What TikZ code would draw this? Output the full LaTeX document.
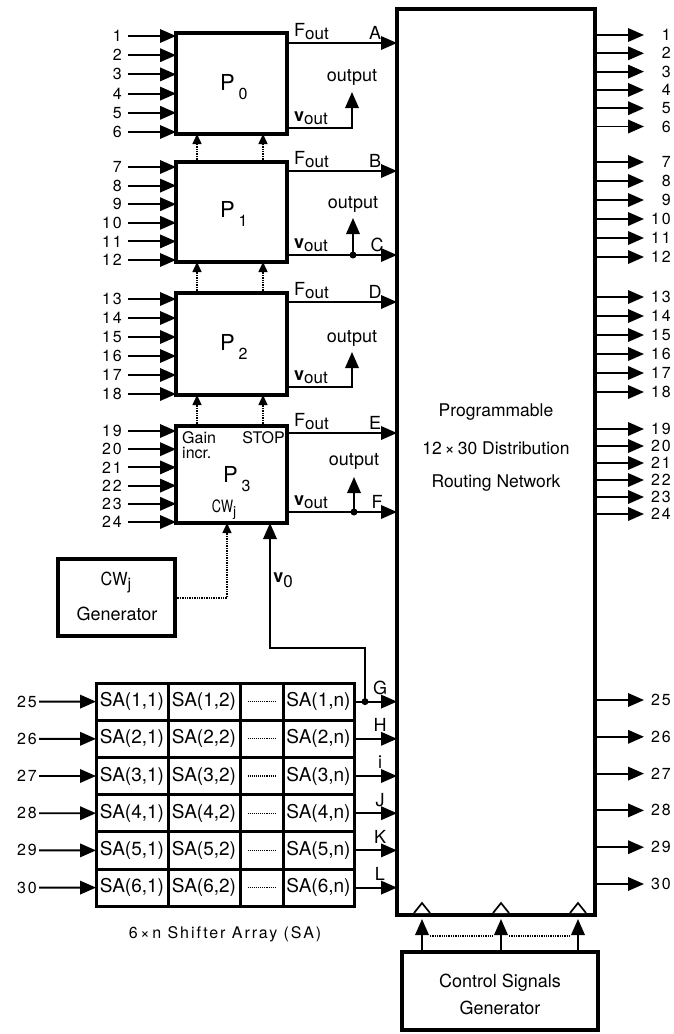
\documentclass[tikz,border=0pt]{standalone}
\usepackage{fontspec}
\usepackage{graphicx}
\setmainfont{TeX Gyre Heros}
\newfontfamily\numfont[LetterSpace=12]{TeX Gyre Heros}
\usetikzlibrary{arrows.meta,calc}
\tikzset{
  blk/.style={draw, line width=3.6pt, inner sep=0pt, outer sep=0pt, anchor=north west},
  cell/.style={draw, line width=3pt, inner sep=0pt, outer sep=0pt, anchor=north west, minimum height=37.2pt, font=\fontsize{19}{19}\selectfont},
  arr/.style={line width=1.9pt, -{Triangle[length=16pt,width=13.5pt]}},
  sarr/.style={line width=1.4pt, densely dotted, -{Triangle[length=10pt,width=9pt]}},
  num/.style={font=\numfont\fontsize{16}{16}\selectfont, inner sep=0pt},
  lab/.style={font=\fontsize{18}{18}\selectfont, inner sep=0pt},
  small/.style={font=\fontsize{16}{16}\selectfont, inner sep=0pt},
  plab/.style={font=\fontsize{22}{22}\selectfont, inner sep=0pt, anchor=base west},
  bigdot/.style={circle, fill, inner sep=0pt, minimum size=7pt},
}
\newcommand{\Fout}{F\raisebox{-3pt}{\fontsize{17}{17}\selectfont out}}
\newcommand{\Vout}{\textbf{v}\raisebox{-3pt}{\fontsize{17}{17}\selectfont out}}
\begin{document}
\begin{tikzpicture}[x=1pt,y=-1pt]
\useasboundingbox (0,0) rectangle (673,1034);

% main blocks
\node[blk, minimum width=111pt, minimum height=101pt] (P0) at (176,33) {};
\node[blk, minimum width=111pt, minimum height=100pt] (P1) at (176,162) {};
\node[blk, minimum width=111pt, minimum height=102pt] (P2) at (176,293) {};
\node[blk, minimum width=111pt, minimum height=97pt] (P3) at (176,426) {};
\node[blk, minimum width=198pt, minimum height=906pt, line width=4pt] (R) at (397,9) {};
\node[blk, minimum width=117pt, minimum height=77pt] (CWG) at (58,559) {};
\node[blk, minimum width=196pt, minimum height=78pt] (CSG) at (402,952) {};

% block labels
\node[plab] (P0t) at (220,90) {P\,\raisebox{-9pt}{\fontsize{16}{16}\selectfont 0}};
\node[plab] (P1t) at (220,217) {P\,\raisebox{-9pt}{\fontsize{16}{16}\selectfont 1}};
\node[plab] (P2t) at (220,350) {P\,\raisebox{-9pt}{\fontsize{16}{16}\selectfont 2}};
\node[plab] (P3t) at (223,482) {P\,\raisebox{-9pt}{\fontsize{16}{16}\selectfont 3}};
\node[small, anchor=north west] (gain) at (182,431) {Gain};
\node[small, anchor=north west] (incr) at (182,447) {incr.};
\node[small, anchor=north east] (stop) at (285,431) {STOP};
\node[small, font=\fontsize{17}{17}\selectfont] (cwin) at (224,510) {\scalebox{0.75}[1]{CW}\raisebox{-4pt}{\fontsize{14}{14}\selectfont j}};

\node[lab] (cwt) at (116,583) {\scalebox{0.9}[1]{CW}\raisebox{-4pt}{\fontsize{16}{16}\selectfont j}};
\node[lab] (cwt2) at (117,614) {Generator};

\node[lab, font=\fontsize{17.5}{17.5}\selectfont] (rt1) at (496,412) {Programmable};
\node[lab, font=\fontsize{17.5}{17.5}\selectfont] (rt2) at (496,448) {12\,×\,30 Distribution};
\node[lab, font=\fontsize{17.5}{17.5}\selectfont] (rt3) at (496,483) {Routing Network};

\node[lab] (cs1) at (500,983) {Control Signals};
\node[lab] (cs2) at (500,1008) {Generator};

% left inputs of P blocks
\foreach \b/\s/\dd/\f in {P0/36/19.2/1, P1/167/18.6/7, P2/299/19/13, P3/431/18.2/19} {
  \foreach \i in {0,...,5} {
    \pgfmathsetmacro\yy{\s+\dd*\i}
    \pgfmathtruncatemacro\nn{\f+\i}
    \node[num, anchor=east] (iL\nn) at (122,\yy) {\nn};
    \coordinate (iS\nn) at (128,\yy);
    \draw[arr] (iS\nn) -- (\b.west |- iS\nn);
  }
}

% right outputs
\foreach \s/\dd/\f in {35/18.3/1, 162/19/7, 297/19/13, 429/17/19, 700/36.8/25} {
  \foreach \i in {0,...,5} {
    \pgfmathsetmacro\yy{\s+\dd*\i}
    \pgfmathtruncatemacro\nn{\f+\i}
    \node[num, anchor=east] (oR\nn) at (671,\yy) {\nn};
    \coordinate (oT\nn) at (644,\yy);
    \draw[arr] (R.east |- oT\nn) -- (oT\nn);
  }
}

% control arrows between P blocks
\foreach \up/\dn in {P0/P1, P1/P2, P2/P3} {
  \foreach \xx in {197,263} {
    \draw[sarr] (\dn.north -| \xx,0) -- (\up.south -| \xx,0);
  }
}

% F_out arrows
\foreach \b/\yy/\L in {P0/43/A, P1/171/B, P2/302/D, P3/433/E} {
  \draw[arr] (\b.east |- 0,\yy) -- (R.west |- 0,\yy);
  \node[lab, anchor=south west] (F\b) at (294,\yy-3) {\Fout};
  \node[lab] (L\L) at (375,\yy-10) {\L};
}

% v_out labels
\foreach \b/\yy in {P0/128, P1/255, P2/387, P3/512} {
  \node[lab, anchor=south west] (V\b) at (294,\yy-3) {\Vout};
}

% outputs
\node[lab, anchor=south] (o0) at (352,86) {output};
\node[lab, anchor=south] (o1) at (353,213) {output};
\node[lab, anchor=south] (o2) at (352,347) {output};
\node[lab, anchor=south] (o3) at (354,470) {output};

\draw[arr] (P0.east |- 0,128) -| ([yshift=-6pt]o0.south);
\node[bigdot] (d1) at (353,255) {};
\draw[arr] (P1.east |- d1) -- (R.west |- d1);
\draw[arr] (d1.center) -- ([yshift=-5pt]o1.south);
\node[lab] (LC) at (377,245) {C};
\draw[arr] (P2.east |- 0,387) -| ([yshift=-5pt]o2.south);
\node[bigdot] (d3) at (354,512) {};
\draw[arr] (P3.east |- d3) -- (R.west |- d3);
\draw[arr] (d3.center) -- ([yshift=-7pt]o3.south);
\node[lab] (LF) at (377,502) {F};

% CWj generator link
\draw[sarr] (CWG.east |- 0,598) -| (P3.south -| 227,0);

% shifter array
\foreach \r/\L in {1/G, 2/H, 3/i, 4/J, 5/K, 6/L} {
  \pgfmathsetmacro\yy{683+37.2*(\r-1)}
  \node[cell, minimum width=72pt] (Sa\r) at (96,\yy) {SA(\r,1)};
  \node[cell, minimum width=72pt] (Sb\r) at (168,\yy) {SA(\r,2)};
  \node[cell, minimum width=43pt] (Sc\r) at (240,\yy) {};
  \node[cell, minimum width=71pt] (Sd\r) at (283,\yy) {SA(\r,n)};
  \draw[densely dotted, line width=1.1pt] ([xshift=-14pt]Sc\r.center) -- ([xshift=14pt]Sc\r.center);
  \pgfmathtruncatemacro\nn{24+\r}
  \node[num, anchor=east] (iA\r) at (37,\yy+18.6) {\nn};
  \draw[arr] ([xshift=2pt]iA\r.east) -- (Sa\r.west);
  \draw[arr] (Sd\r.east) -- (R.west |- Sd\r.east);
  \node[lab] (LS\r) at (380,\yy+5) {\L};
}
\node[lab, font=\numfont\fontsize{16}{16}\selectfont] (sat) at (225,934) {6\,×\,n Shifter Array (SA)};

% v0 feedback
\node[bigdot] (dG) at ($(Sd1.east)+(11,0)$) {};
\coordinate (v0c) at (270,648);
\draw[arr] (dG.center) |- (v0c) -- (v0c |- P3.south);
\node[lab] (v0t) at (283,580) {\textbf{v}\raisebox{-5pt}{\fontsize{17}{17}\selectfont 0}};

% control signals
\foreach \xx/\k in {422/1, 501/2, 578/3} {
  \coordinate (ct\k) at (\xx,919);
  \draw[arr] (CSG.north -| ct\k) -- (ct\k);
  \draw[line width=1.7pt, fill=white, line join=miter] ($(R.south -| ct\k)+(-8,-2)$) -- ($(R.south -| ct\k)+(0,-12)$) -- ($(R.south -| ct\k)+(8,-2)$);
}
\draw[densely dotted, line width=1.3pt] ($(ct1)+(8,17)$) -- ($(ct2)+(-8,17)$);
\draw[densely dotted, line width=1.3pt] ($(ct2)+(8,17)$) -- ($(ct3)+(-8,17)$);
\end{tikzpicture}
\end{document}
